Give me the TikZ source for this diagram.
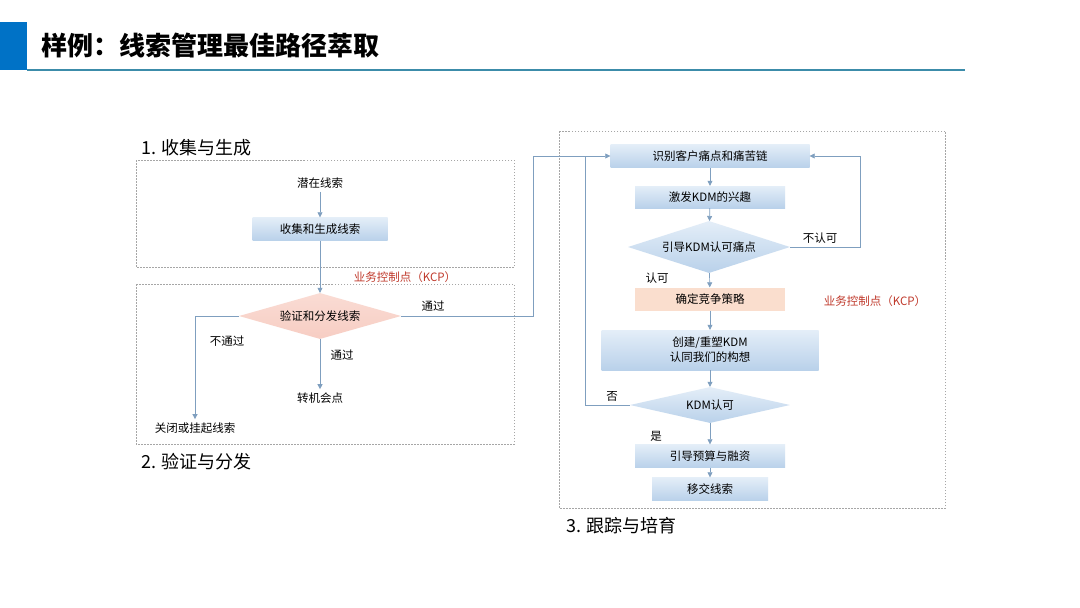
\documentclass[tikz,border=0pt]{standalone}
\usepackage{fontspec}
\setmainfont{Noto Sans CJK SC}
\usetikzlibrary{shapes.geometric,arrows.meta}
\definecolor{ln}{HTML}{7F9FBF}
\definecolor{bt}{HTML}{E4EEF8}
\definecolor{bb}{HTML}{B9D1EA}
\definecolor{kcp}{HTML}{C0392B}
\definecolor{hdr}{HTML}{0072C6}
\definecolor{hline}{HTML}{3C8CAA}
\definecolor{pk1}{HTML}{FADCD4}
\definecolor{pk2}{HTML}{F7CDC3}
\definecolor{pch}{HTML}{FADECE}
\begin{document}
\begin{tikzpicture}[x=1pt,y=-1pt,
  fs/.style={font=\fontsize{11.5}{13}\selectfont},
  bx/.style={fs,inner sep=0,top color=bt,bottom color=bb,draw=none},
  dm/.style={fs,diamond,inner sep=0,aspect=3,draw=none,top color=bt,bottom color=bb},
  frame/.style={draw=gray!70,dash pattern=on 1.5pt off 1.5pt,line width=0.5pt},
  con/.style={draw=ln,line width=0.7pt,-{Triangle[length=5pt,width=5pt]}},
  conn/.style={draw=ln,line width=0.7pt},
  tl/.style={font=\fontsize{18}{20}\selectfont,anchor=west},
  red/.style={fs,text=kcp}]
\useasboundingbox (0,0) rectangle (1080,608);
\fill[white] (0,0) rectangle (1080,608);
\fill[hdr] (0,22) rectangle (27,70);
\draw[hline,line width=1.2pt] (27,70) -- (965,70);
\node[anchor=west,font=\fontsize{26}{28}\selectfont\bfseries] (title) at (38,46) {样例：线索管理最佳路径萃取};
% frames
\draw[frame] (136,160) rectangle (514,267);
\draw[frame] (136,284) rectangle (514,444);
\draw[frame] (559,131) rectangle (945,508);
\node[tl] (t1) at (138,148) {1. 收集与生成};
\node[tl] (t2) at (138,462) {2. 验证与分发};
\node[tl] (t3) at (563,526) {3. 跟踪与培育};
% left
\node[fs] (lead) at (320,183) {潜在线索};
\node[bx,minimum width=135pt,minimum height=23pt] (collect) at (320,229) {收集和生成线索};
\node[dm,top color=pk1,bottom color=pk2,minimum width=162pt,minimum height=46pt] (verify) at (320,316) {验证和分发线索};
\node[red] (kcp1) at (405,277) {业务控制点（KCP）};
\node[fs] (close) at (195,428) {关闭或挂起线索};
\node[fs] (opp) at (320,398) {转机会点};
\draw[con] (lead) -- (collect);
\draw[con] (collect) -- (verify.north);
\draw[con] (verify.west) -| (close.north);
\draw[con] (verify.south) -- (opp.north);
\node[fs] at (227,341) {不通过};
\node[fs] at (342,355) {通过};
\node[fs] at (433,306) {通过};
% right
\node[bx,minimum width=199pt,minimum height=23pt] (A) at (710,156) {识别客户痛点和痛苦链};
\node[bx,minimum width=150pt,minimum height=22pt] (B) at (710,197) {激发KDM的兴趣};
\node[dm,minimum width=162pt,minimum height=52pt] (C) at (709,247) {引导KDM认可痛点};
\node[fs,inner sep=0,fill=pch,minimum width=150pt,minimum height=23pt] (D) at (710,299) {确定竞争策略};
\node[bx,minimum width=217pt,minimum height=40pt,align=center,font=\fontsize{11.5}{15}\selectfont] (E) at (710,350) {创建/重塑KDM\\认同我们的构想};
\node[dm,minimum width=160pt,minimum height=36pt] (F) at (710,405) {KDM认可};
\node[bx,minimum width=150pt,minimum height=23pt] (G) at (710,456) {引导预算与融资};
\node[bx,minimum width=116pt,minimum height=23pt] (H) at (710,489) {移交线索};
\node[red] (kcp2) at (875,301) {业务控制点（KCP）};
\draw[con] (A) -- (B);
\draw[con] (B) -- (C);
\draw[con] (C) -- (D);
\draw[con] (D) -- (E);
\draw[con] (E) -- (F);
\draw[con] (F) -- (G);
\draw[con] (G) -- (H);
\coordinate (rr) at (860,156);
\draw[con] (C.east) -| (rr) -- (A.east);
\coordinate (ll) at (585,156);
\draw[conn] (F.west) -| (ll);
\coordinate (mm) at (533,156);
\draw[con] (verify.east) -| (mm) -- (A.west);
\node[fs] at (820,238) {不认可};
\node[fs] at (657,278) {认可};
\node[fs] at (612,396) {否};
\node[fs] at (656,436) {是};
\end{tikzpicture}
\end{document}
